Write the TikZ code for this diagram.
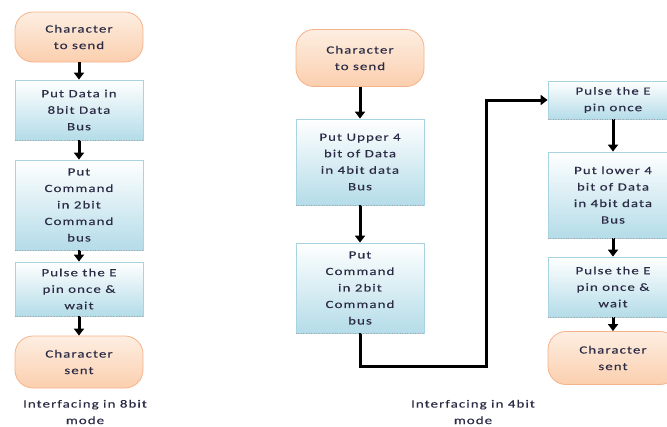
\documentclass[tikz,border=0pt]{standalone}
\usepackage{fontspec}
\setmainfont[FakeStretch=1.35, LetterSpace=10, FakeBold=0.2]{Carlito}
\usetikzlibrary{arrows.meta}
\definecolor{boxline}{HTML}{A8D3E0}
\definecolor{boxbot}{HTML}{B4DCE8}
\definecolor{termline}{HTML}{F6B38A}
\definecolor{termtop}{HTML}{FDEEE2}
\definecolor{termbot}{HTML}{FBCFAE}
\definecolor{txt}{HTML}{2B2B45}
\begin{document}
\begin{tikzpicture}[x=1pt, y=-1pt,
    stepbox/.style={draw=boxline, line width=0.8pt, top color=white, bottom color=boxbot,
        minimum width=128pt, align=center, text=txt, font=\fontsize{11}{16.5}\selectfont},
    termbox/.style={draw=termline, line width=0.8pt, top color=termtop, bottom color=termbot,
        rounded corners=18pt, minimum width=128pt, align=center, text=txt,
        font=\fontsize{11}{16.5}\selectfont},
    caption/.style={align=center, text=txt, font=\fontsize{11}{16.5}\selectfont},
    flow/.style={-{Triangle[width=10pt,length=7pt]}, line width=3pt}]
    \useasboundingbox (0,0) rectangle (667,426);
    % 8bit mode
    \node[termbox, minimum height=50pt] (start1) at (79,37) {Character\\to send};
    \node[stepbox, minimum height=60pt] (b1) at (79,110) {Put Data in\\8bit Data\\Bus};
    \node[stepbox, minimum height=90pt] (b2) at (79,205) {Put\\Command\\in 2bit\\Command\\bus};
    \node[stepbox, minimum height=54pt] (b3) at (79,289) {Pulse the E\\pin once \&\\wait};
    \node[termbox, minimum height=52pt] (end1) at (79,362) {Character\\sent};
    \node[caption] (cap1) at (85,412) {Interfacing in 8bit\\mode};
    \draw[flow] (start1) -- (b1);
    \draw[flow] (b1) -- (b2);
    \draw[flow] (b2) -- (b3);
    \draw[flow] (b3) -- (end1);
    % 4bit mode, first half
    \node[termbox, minimum height=57pt] (start2) at (360,58) {Character\\to send};
    \node[stepbox, minimum height=86pt] (b4) at (360,162) {Put Upper 4\\bit of Data\\in 4bit data\\Bus};
    \node[stepbox, minimum height=90pt] (b5) at (360,288) {Put\\Command\\in 2bit\\Command\\bus};
    \node[caption] (cap2) at (473,412) {Interfacing in 4bit\\mode};
    \draw[flow] (start2) -- (b4);
    \draw[flow] (b4) -- (b5);
    % 4bit mode, second half
    \node[stepbox, minimum height=38pt, minimum width=130pt] (b6) at (613,100) {Pulse the E\\pin once};
    \node[stepbox, minimum height=86pt, minimum width=130pt] (b7) at (613,195) {Put lower 4\\bit of Data\\in 4bit data\\Bus};
    \node[stepbox, minimum height=60pt, minimum width=130pt] (b8) at (613,287) {Pulse the E\\pin once \&\\wait};
    \node[termbox, minimum height=53pt, minimum width=130pt] (end2) at (613,358) {Character\\sent};
    \coordinate (low) at (486,366);
    \draw[flow] (b5.south) |- (low) |- (b6.west);
    \draw[flow] (b6) -- (b7);
    \draw[flow] (b7) -- (b8);
    \draw[flow] (b8) -- (end2);
    % Dotted shadow edges
    \foreach \n in {b1,b2,b3,b4,b5,b6,b7,b8}
        \draw[dotted, gray!70, line width=0.6pt] (\n.south west) -- (\n.south east);
\end{tikzpicture}
\end{document}
